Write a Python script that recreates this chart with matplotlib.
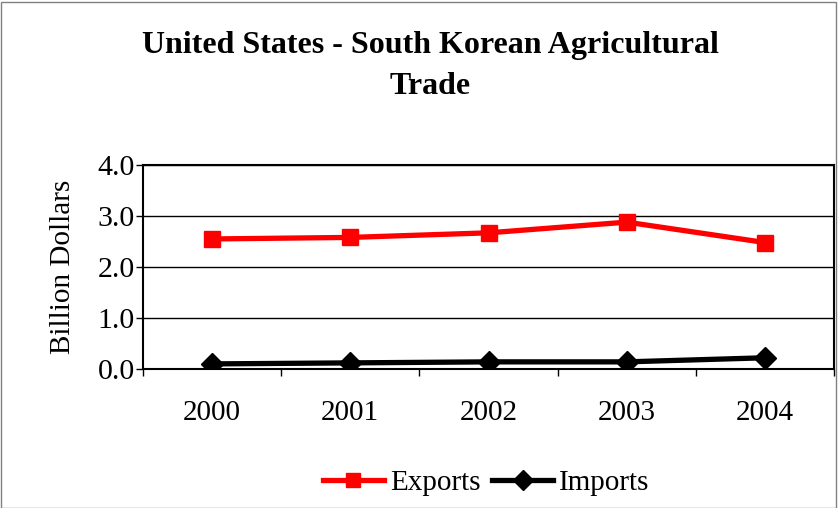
import matplotlib
matplotlib.use("Agg")
import matplotlib.pyplot as plt
from matplotlib.patches import Rectangle

years = ["2000", "2001", "2002", "2003", "2004"]
exports = [2.55, 2.58, 2.67, 2.88, 2.48]
imports = [0.10, 0.12, 0.14, 0.14, 0.22]
yticks = [0.0, 1.0, 2.0, 3.0, 4.0]

plt.rcParams['font.family'] = ['Liberation Serif', 'DejaVu Serif']

fig = plt.figure(figsize=(8.4, 5.08), dpi=100)
ax = fig.add_axes([143/840, 1-369/508, (834-143)/840, (369-165)/508])

x = list(range(len(years)))
ax.plot(x, exports, color='#ff0000', lw=3.8, marker='s', ms=11.5, label='Exports', zorder=3)
ax.plot(x, imports, color='black', lw=3.8, marker='D', ms=11.5, label='Imports', zorder=3)

ax.set_xlim(-0.5, len(years)-0.5)
ax.set_ylim(0, 4.0)
ax.set_yticks(yticks)
ax.set_yticklabels([f"{v:.1f}" for v in yticks], fontsize=21.5)
ax.yaxis.grid(True, color='black', lw=1)
ax.set_axisbelow(True)
ax.set_xticks([i-0.5 for i in range(len(years)+1)])
ax.set_xticklabels([])
ax.set_xticks(x, minor=True)
ax.set_xticklabels(years, minor=True, fontsize=21)
ax.tick_params(axis='x', which='minor', length=0, pad=22)
ax.tick_params(axis='x', which='major', length=5, direction='out', width=1)
ax.tick_params(axis='y', length=5, direction='out', width=1, pad=1)
for s in ax.spines.values():
    s.set_linewidth(1.5)
ax.set_ylabel("Billion Dollars", fontsize=21, labelpad=15)

fig.text(430/840, 1-45/508, "United States - South Korean Agricultural",
         ha='center', va='center', fontsize=23, fontweight='bold')
fig.text(430/840, 1-86/508, "Trade",
         ha='center', va='center', fontsize=23, fontweight='bold')

leg = ax.legend(loc='center', bbox_to_anchor=(486/840, 1-483/508), bbox_transform=fig.transFigure,
                ncol=2, frameon=False, fontsize=21, handlelength=2.1, columnspacing=0.4,
                handletextpad=0.2)
for h in leg.legend_handles:
    h.set_markersize(10)

fig.patches.append(Rectangle((1/840, 0), 835/840, 1-2/508, transform=fig.transFigure,
                             fill=False, edgecolor='#808080', lw=1))

fig.savefig("out.png", dpi=100)
